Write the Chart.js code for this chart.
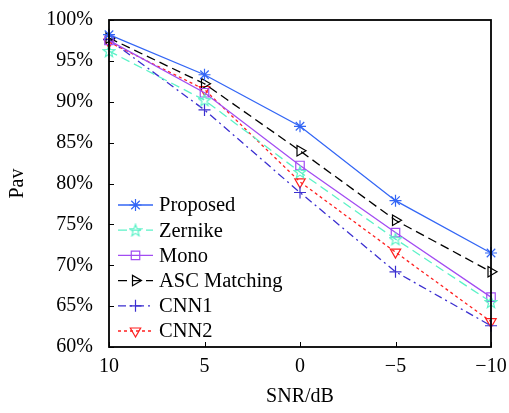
<!DOCTYPE html>
<html lang="en">
  <head>
    <meta charset="UTF-8" />
    <title>Pav vs SNR</title>
    <script src="https://cdn.jsdelivr.net/npm/chart.js"></script>
    <style>
      html, body { margin: 0; padding: 0; background: #fff; }
      #wrap { width: 509px; height: 413px; }
    </style>
  </head>
  <body>
    <div id="wrap"><canvas id="pavChart" width="509" height="413"></canvas></div>

    <script>
      // data
      const snr = [10, 5, 0, -5, -10];
      const proposed = [98.2, 93.3, 87.0, 77.9, 71.5];
      const zernike = [96.2, 90.2, 81.4, 73.2, 65.5];
      const mono = [97.5, 91.1, 82.2, 74.0, 66.1];
      const ascMatching = [97.8, 92.2, 84.0, 75.5, 69.2];
      const cnn1 = [97.6, 89.0, 78.9, 69.2, 62.6];
      const cnn2 = [97.3, 91.5, 80.2, 71.6, 63.1];
      const yTicks = [60, 65, 70, 75, 80, 85, 90, 95, 100];
      const xTicks = [10, 5, 0, -5, -10];

      const FONT = "'Liberation Serif', 'DejaVu Serif', serif";

      // hollow five point star for Zernike
      function makeStar(color) {
        const c = document.createElement("canvas");
        c.width = 14; c.height = 14;
        const g = c.getContext("2d");
        g.strokeStyle = color;
        g.lineWidth = 1.2;
        g.beginPath();
        for (let i = 0; i < 10; i++) {
          const r = i % 2 === 0 ? 6.2 : 2.6;
          const a = -Math.PI / 2 + i * Math.PI / 5;
          const px = 7 + r * Math.cos(a), py = 7.5 + r * Math.sin(a);
          if (i === 0) g.moveTo(px, py); else g.lineTo(px, py);
        }
        g.closePath();
        g.stroke();
        return c;
      }

      const toXY = (arr) => arr.map((v, i) => ({ x: snr[i], y: v }));

      function series(label, values, color, dash, style, extra) {
        return Object.assign({
          label: label,
          data: toXY(values),
          borderColor: color,
          backgroundColor: "rgba(0,0,0,0)",
          pointBorderColor: color,
          pointBackgroundColor: "rgba(0,0,0,0)",
          borderWidth: 1.3,
          borderDash: dash,
          pointStyle: style,
          pointRadius: 5,
          pointBorderWidth: 1.2,
          tension: 0,
          clip: false,
        }, extra || {});
      }

      const datasets = [
        series("Proposed", proposed, "#3366f5", [], "star", { pointRadius: 6 }),
        series("Zernike", zernike, "#5cf2c8", [9, 5], makeStar("#5cf2c8")),
        series("Mono", mono, "#a24cf2", [], "rect", { pointRadius: 6 }),
        series("ASC Matching", ascMatching, "#000000", [9, 5], "triangle", { pointRotation: 90, pointRadius: 6 }),
        series("CNN1", cnn1, "#3b2fd0", [8, 4, 2, 4], "cross", { pointRadius: 6 }),
        series("CNN2", cnn2, "#ff2020", [3, 3], "triangle", { pointRotation: 180, pointRadius: 6 }),
      ];

      // box around plot, inner ticks and legend inside the plot
      const framePlugin = {
        id: "frame",
        afterDraw(chart) {
          const ctx = chart.ctx;
          const a = chart.chartArea;
          const xs = chart.scales.x, ys = chart.scales.y;
          ctx.save();
          ctx.strokeStyle = "#000";
          ctx.lineWidth = 1.8;
          ctx.setLineDash([]);
          ctx.strokeRect(a.left, a.top, a.right - a.left, a.bottom - a.top);
          ctx.lineWidth = 1;
          ctx.beginPath();
          xTicks.forEach((v) => {
            const px = Math.round(xs.getPixelForValue(v)) + 0.5;
            ctx.moveTo(px, a.bottom);
            ctx.lineTo(px, a.bottom - 5);
          });
          yTicks.forEach((v) => {
            const py = Math.round(ys.getPixelForValue(v)) + 0.5;
            ctx.moveTo(a.left, py);
            ctx.lineTo(a.left + 5, py);
          });
          ctx.stroke();

          // legend
          const x0 = 118, x1 = 153, tx = 159;
          let y = 205;
          ctx.font = "20.5px " + FONT;
          ctx.textBaseline = "middle";
          ctx.fillStyle = "#000";
          chart.data.datasets.forEach((ds) => {
            ctx.strokeStyle = ds.borderColor;
            ctx.lineWidth = ds.borderWidth;
            ctx.setLineDash(ds.borderDash);
            ctx.beginPath();
            ctx.moveTo(x0, y);
            ctx.lineTo(x1, y);
            ctx.stroke();
            ctx.setLineDash([]);
            ctx.fillStyle = "rgba(0,0,0,0)";
            ctx.lineWidth = ds.pointBorderWidth;
            Chart.helpers.drawPoint(ctx, {
              pointStyle: ds.pointStyle,
              rotation: ds.pointRotation || 0,
              radius: ds.pointRadius,
              borderWidth: ds.pointBorderWidth,
            }, (x0 + x1) / 2, y);
            ctx.fillStyle = "#000";
            ctx.fillText(ds.label, tx, y + 1);
            y += 25.2;
          });
          ctx.restore();
        },
      };

      const config = {
        type: "line",
        data: { datasets },
        options: {
          responsive: false,
          animation: false,
          layout: { padding: { left: 0, right: 18, top: 20, bottom: 4 } },
          scales: {
            x: {
              type: "linear",
              reverse: true,
              min: -10,
              max: 10,
              afterBuildTicks: (s) => { s.ticks = xTicks.map((v) => ({ value: v })); },
              afterFit: (s) => { s.height = 62; s.paddingLeft = 0; s.paddingRight = 0; },
              ticks: {
                color: "#000",
                padding: 8,
                font: { family: FONT, size: 20 },
                callback: (v) => (v < 0 ? "\u2212" + Math.abs(v) : String(v)),
              },
              grid: { display: false, drawTicks: false },
              border: { display: false },
              title: {
                display: true,
                text: "SNR/dB",
                color: "#000",
                padding: { top: 4, bottom: 0 },
                font: { family: FONT, size: 20 },
              },
            },
            y: {
              min: 60,
              max: 100,
              afterBuildTicks: (s) => { s.ticks = yTicks.map((v) => ({ value: v })); },
              afterFit: (s) => { s.width = 109; s.paddingTop = 0; s.paddingBottom = 0; },
              ticks: {
                color: "#000",
                padding: 16,
                font: { family: FONT, size: 20 },
                callback: (v) => v + "%",
              },
              grid: { display: false, drawTicks: false },
              border: { display: false },
              title: {
                display: true,
                text: "Pav",
                color: "#000",
                padding: { top: 6, bottom: 0 },
                font: { family: FONT, size: 20 },
              },
            },
          },
          plugins: {
            legend: { display: false },
            tooltip: { enabled: false },
          },
        },
        plugins: [framePlugin],
      };

      const pavChart = new Chart(document.getElementById("pavChart"), config);
    </script>
  </body>
</html>
